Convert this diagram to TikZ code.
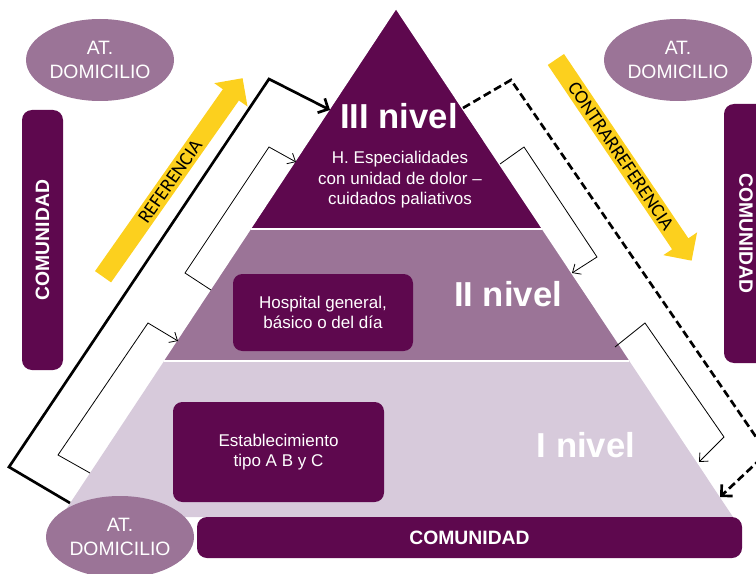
\documentclass[tikz,border=0pt]{standalone}
\usepackage{fontspec}
\setmainfont{Liberation Sans}
\newfontfamily\arrowfont{Carlito}
\usetikzlibrary{shapes.geometric,shapes.arrows,arrows.meta,calc}
\definecolor{darkpurple}{RGB}{94,8,78}
\definecolor{midpurple}{RGB}{155,116,151}
\definecolor{lightpurple}{RGB}{215,202,219}
\definecolor{arrowyellow}{RGB}{252,208,30}

\begin{document}
\begin{tikzpicture}[x=0.75pt,y=-0.75pt,
	domi/.style={ellipse,fill=midpurple,text=white,minimum width=111pt,minimum height=61.5pt,inner sep=0pt,align=center,font=\fontsize{14.5}{18}\selectfont},
	combar/.style={rounded corners=7.5pt,fill=darkpurple,text=white,inner sep=0pt,font=\fontsize{14.5}{17}\selectfont\bfseries},
	levelbox/.style={rounded corners=7pt,fill=darkpurple,text=white,inner sep=0pt,align=center,font=\fontsize{12.75}{15}\selectfont},
	nivel/.style={text=white,inner sep=0pt,font=\fontsize{26}{30}\selectfont\bfseries},
	yarrow/.style={single arrow,fill=arrowyellow,font=\arrowfont\fontsize{14.5}{17}\selectfont,text height=9.5pt,text depth=0pt,inner xsep=0pt,inner ysep=2.4pt,single arrow head extend=7.9pt,minimum width=30pt,minimum height=182pt},
	refline/.style={line width=2pt,-{Straight Barb[length=6pt,width=12pt]}},
	backline/.style={refline,dash pattern=on 6pt off 3pt},
	stepline/.style={line width=0.6pt,-{Straight Barb[length=5pt,width=9pt]}}]
	\useasboundingbox (0,0) rectangle (756,574);
	% piramide
	\coordinate (apex) at (396,10);
	\coordinate (bl) at (61,517);
	\coordinate (br) at (733,517);
	\fill[lightpurple] (apex) -- (bl) -- (br) -- cycle;
	\fill[midpurple] (apex) -- ($(apex)!0.692!(bl)$) -- ($(apex)!0.692!(br)$) -- cycle;
	\fill[darkpurple] (apex) -- ($(apex)!0.432!(bl)$) -- ($(apex)!0.432!(br)$) -- cycle;
	\foreach \t in {0.432,0.692} {
			\draw[white,line width=2pt] ($(apex)!\t!(bl)$) -- ($(apex)!\t!(br)$);
		}
	% referencia / contrarreferencia
	\coordinate (ref-a) at (70,503);
	\coordinate (ref-b) at (9,467);
	\coordinate (ref-c) at (269,79);
	\coordinate (ref-d) at (330,110);
	\draw[refline] (ref-a) -- (ref-b) -- (ref-c) -- (ref-d);
	\coordinate (con-a) at (463,108);
	\coordinate (con-b) at (511,80);
	\coordinate (con-c) at (767,453);
	\coordinate (con-d) at (720,497);
	\draw[backline] (con-a) -- (con-b) -- (con-c) -- (con-d);
	\coordinate (up-a) at (211,290);
	\coordinate (up-b) at (185,273);
	\coordinate (up-c) at (269,147);
	\coordinate (up-d) at (296,162);
	\coordinate (lo-a) at (90,473);
	\coordinate (lo-b) at (58,455);
	\coordinate (lo-c) at (148,323);
	\coordinate (lo-d) at (178,341);
	\coordinate (dn-a) at (500,164);
	\coordinate (dn-b) at (524,147);
	\coordinate (dn-c) at (597,257);
	\coordinate (dn-d) at (572,273);
	\coordinate (dl-a) at (615,347);
	\coordinate (dl-b) at (645,323);
	\coordinate (dl-c) at (724,437);
	\coordinate (dl-d) at (699,462);
	\foreach \n in {up,lo,dn,dl} {
			\draw[stepline] (\n-a) -- (\n-b) -- (\n-c) -- (\n-d);
		}
	\node[yarrow,rotate=54.9] (refArrow) at (170,181.5) {REFERENCIA};
	\node[yarrow,rotate=-56] (contraArrow) at (621,156) {CONTRARREFERENCIA};
	% niveles
	\node[nivel] (nivIII) at (399,116.5) {III nivel};
	\node[text=white,align=center,inner sep=0pt,font=\fontsize{12.75}{15.4}\selectfont] (espec) at (400,180) {H. Especialidades\\con unidad de dolor --\\cuidados paliativos};
	\node[nivel] (nivII) at (508,294) {II nivel};
	\node[nivel] (nivI) at (586,445.5) {I nivel};
	\node[levelbox,minimum width=135pt,minimum height=57.75pt] (hosp) at (323,312.5) {Hospital general,\\básico o del día};
	\node[levelbox,minimum width=158.25pt,minimum height=75pt] (estab) at (278.5,452) {Establecimiento\\tipo A B y C};
	% comunidad
	\node[combar,minimum width=408.75pt,minimum height=30.75pt] (comB) at (469.5,537.5) {COMUNIDAD};
	\node[combar,rotate=90,minimum width=195pt,minimum height=30.75pt] (comL) at (42.5,240) {COMUNIDAD};
	\node[combar,rotate=-90,minimum width=194.25pt,minimum height=33pt] (comR) at (746,233.5) {COMUNIDAD};
	\foreach \n/\p in {domTL/{(100,60)},domTR/{(678,60)},domBL/{(120,537)}} {
			\node[domi] (\n) at \p {AT.\\DOMICILIO};
		}
\end{tikzpicture}
\end{document}
